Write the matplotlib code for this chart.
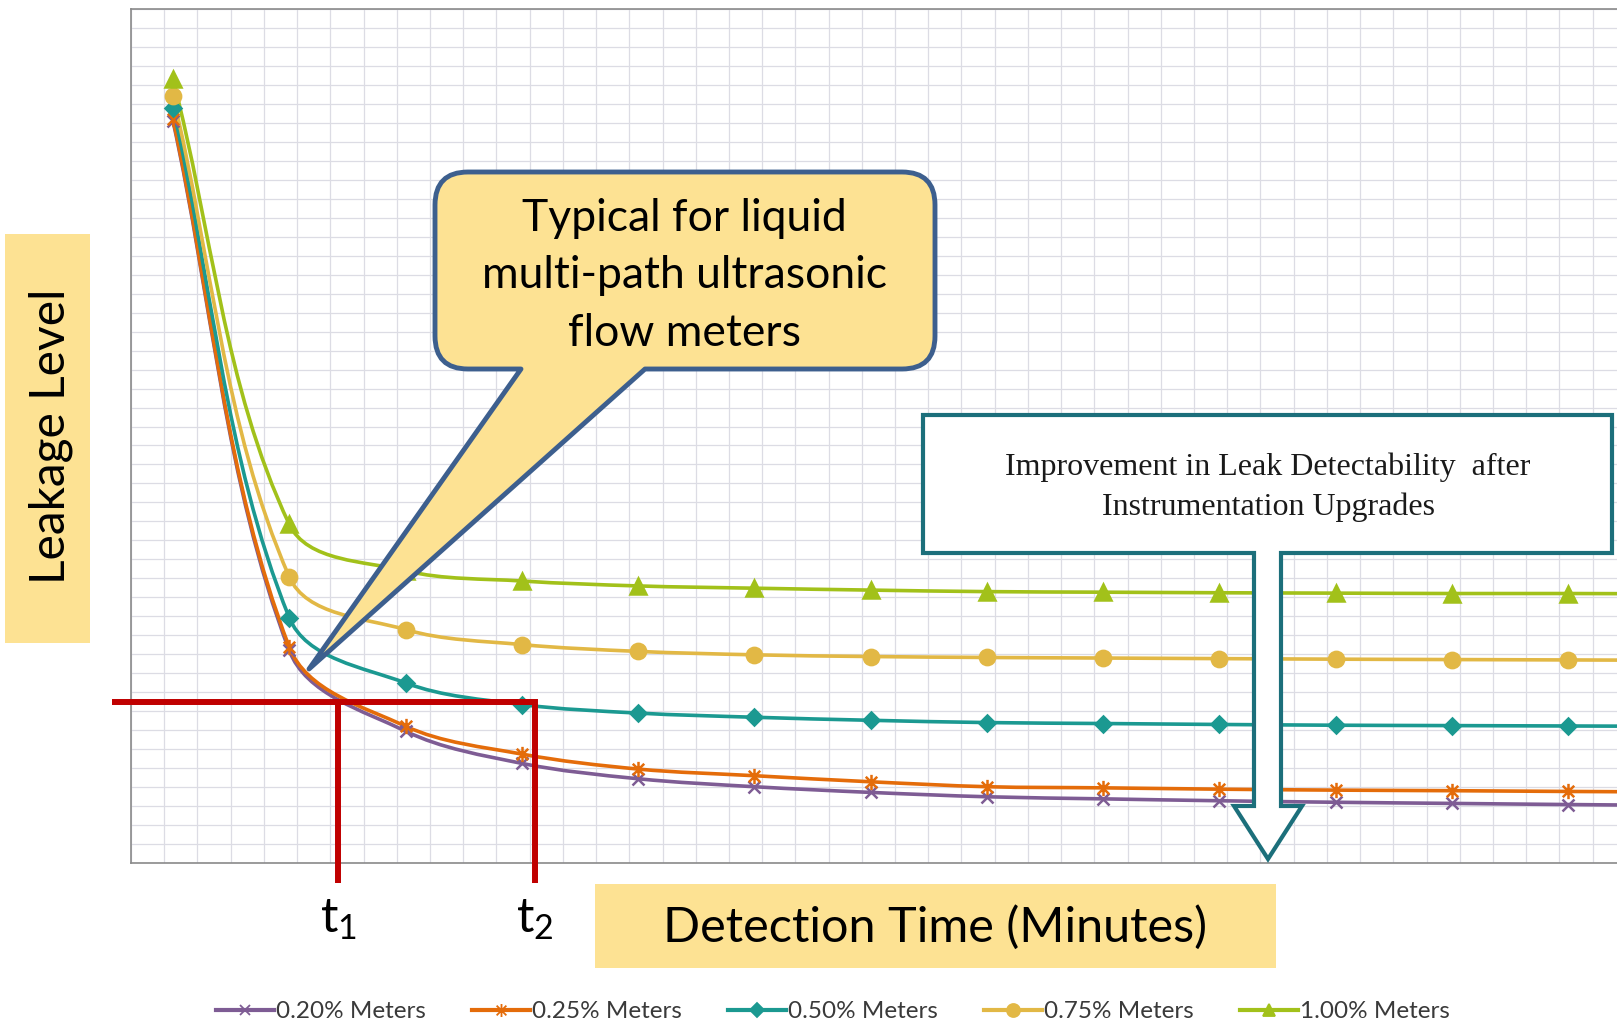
import numpy as np
import matplotlib
matplotlib.use('Agg')
import matplotlib.pyplot as plt
from matplotlib.path import Path
from matplotlib.patches import PathPatch, Rectangle

plt.rcParams['font.family'] = ['Lato', 'DejaVu Sans']

# Leakage level vs. detection time for each meter accuracy class
detection_time = [1, 2, 3, 4, 5, 6, 7, 8, 9, 10, 11, 12, 13, 14]
meters_020 = [39.1, 11.2, 6.95, 5.25, 4.44, 4.02, 3.72, 3.49, 3.38, 3.28, 3.20, 3.14, 3.08, 3.03]
meters_025 = [39.2, 11.38, 7.21, 5.74, 4.95, 4.60, 4.28, 4.02, 3.96, 3.89, 3.84, 3.81, 3.77, 3.74]
meters_050 = [39.8, 12.93, 9.49, 8.35, 7.90, 7.68, 7.52, 7.40, 7.35, 7.30, 7.26, 7.24, 7.22, 7.20]
meters_075 = [40.4, 15.08, 12.3, 11.51, 11.15, 10.97, 10.88, 10.83, 10.80, 10.77, 10.74, 10.72, 10.70, 10.68]
meters_100 = [41.3, 17.85, 15.4, 14.86, 14.60, 14.48, 14.38, 14.30, 14.27, 14.24, 14.22, 14.20, 14.20, 14.18]

series = [meters_020, meters_025, meters_050, meters_075, meters_100]
series_labels = ['0.20% Meters', '0.25% Meters', '0.50% Meters', '0.75% Meters', '1.00% Meters']
series_colors = ['#7E5C94', '#E46C0A', '#1B9991', '#E2B845', '#A2C11A']

# Detection threshold and the two detection times it gives
threshold_level = 8.46
t1_time = 2.42
t2_time = 4.11

# asterisk marker (cross plus vertical stroke)
star = Path([(0, -1), (0, 1), (-0.75, -0.75), (0.75, 0.75), (-0.75, 0.75), (0.75, -0.75)],
            [Path.MOVETO, Path.LINETO] * 3)
series_markers = ['x', star, 'D', 'o', '^']
marker_sizes = [9, 11, 8.5, 11, 11]

W, H = 1617, 1024
XMIN, XMAX, YMIN, YMAX = 0.639, 13.42, 0, 45
AX_L, AX_T, AX_B = 131, 9, 863
SX = (W - AX_L) / (XMAX - XMIN)      # pixels per minute
SY = (AX_B - AX_T) / (YMAX - YMIN)   # pixels per level unit


def smooth_path(x, y):
    # smoothed line: tangent along neighbours, handle length a third of the
    # segment length (computed in screen space so sharp knees don't overshoot)
    pts = np.column_stack([np.asarray(x, float) * SX, np.asarray(y, float) * SY])
    n = len(pts)
    tang = []
    for i in range(n):
        d = pts[min(i + 1, n - 1)] - pts[max(i - 1, 0)]
        tang.append(d / np.hypot(*d))
    verts = [pts[0]]
    codes = [Path.MOVETO]
    for i in range(n - 1):
        seg = np.hypot(*(pts[i + 1] - pts[i])) / 3
        verts += [pts[i] + tang[i] * seg, pts[i + 1] - tang[i + 1] * seg, pts[i + 1]]
        codes += [Path.CURVE4] * 3
    verts = np.array(verts) / [SX, SY]
    return Path(verts, codes)


fig = plt.figure(figsize=(W / 100, H / 100), dpi=100)
ax = fig.add_axes([AX_L / W, (H - AX_B) / H, (W - AX_L) / W, (AX_B - AX_T) / H])
ax.set_xlim(XMIN, XMAX)
ax.set_ylim(YMIN, YMAX)
ax.set_xticks(np.arange(XMIN, XMAX, 2 / 7))
ax.set_yticks(np.arange(0, 46, 1))
ax.tick_params(length=0, labelbottom=False, labelleft=False)
ax.grid(True, color='#DCDCE4', linewidth=0.9)
ax.set_axisbelow(True)
for side in ['left', 'top', 'bottom']:
    ax.spines[side].set_color('#8A8A8A')
    ax.spines[side].set_linewidth(1.2)
ax.spines['right'].set_visible(False)

for vals, col, mk, ms in zip(series, series_colors, series_markers, marker_sizes):
    ax.add_patch(PathPatch(smooth_path(detection_time, vals), fill=False,
                           edgecolor=col, linewidth=2.6, zorder=3))
    ax.plot(detection_time, vals, linestyle='none', marker=mk, markersize=ms,
            color=col, markeredgecolor=col, markeredgewidth=1.8, zorder=4)

# threshold line and the two detection times
red = '#C00000'
ax.plot([0.472, t2_time, t2_time], [threshold_level, threshold_level, -1.05], color=red,
        linewidth=4.3, solid_joinstyle='miter', solid_capstyle='butt', clip_on=False, zorder=6)
ax.plot([t1_time, t1_time], [threshold_level, -1.05], color=red, linewidth=4.3,
        solid_capstyle='butt', clip_on=False, zorder=6)
ax.text(t1_time, -3.68, r'$\mathregular{t_1}$', ha='center', va='baseline', fontsize=35, clip_on=False)
ax.text(t2_time, -3.68, r'$\mathregular{t_2}$', ha='center', va='baseline', fontsize=35, clip_on=False)

# overlay in pixel coordinates for the annotation shapes
ov = fig.add_axes([0, 0, 1, 1], zorder=5)
ov.set_xlim(0, W)
ov.set_ylim(H, 0)
ov.axis('off')

box_fill = '#FDE293'

# axis titles on yellow boxes
ov.add_patch(Rectangle((595, 884), 681, 84, facecolor=box_fill, edgecolor='none'))
ov.text(935.5, 927, 'Detection Time (Minutes)', ha='center', va='center', fontsize=35)
ov.add_patch(Rectangle((5, 234), 85, 409, facecolor=box_fill, edgecolor='none'))
ov.text(51, 436, 'Leakage Level', ha='center', va='center', rotation=90, fontsize=34.5)

# speech callout pointing at the curves
x0, y0, x1, y1, r = 435, 172, 935, 369, 33
tip = (309, 669)
verts = [(x0 + r, y0), (x1 - r, y0), (x1, y0), (x1, y0 + r), (x1, y1 - r), (x1, y1), (x1 - r, y1),
         (645, y1), tip, (521, y1), (x0 + r, y1), (x0, y1), (x0, y1 - r), (x0, y0 + r), (x0, y0),
         (x0 + r, y0), (x0 + r, y0)]
codes = [Path.MOVETO, Path.LINETO, Path.CURVE3, Path.CURVE3, Path.LINETO, Path.CURVE3, Path.CURVE3,
         Path.LINETO, Path.LINETO, Path.LINETO, Path.LINETO, Path.CURVE3, Path.CURVE3, Path.LINETO,
         Path.CURVE3, Path.CURVE3, Path.CLOSEPOLY]
ov.add_patch(PathPatch(Path(verts, codes), facecolor=box_fill, edgecolor='#3D5F8E',
                       linewidth=3.5, joinstyle='round'))
for i, line in enumerate(['Typical for liquid', 'multi-path ultrasonic', 'flow meters']):
    ov.text(684, 231 + i * 57.5, line, ha='center', va='baseline', fontsize=32)

# down-arrow callout
teal = '#1C6F7B'
arrow = [(923, 415), (1612, 415), (1612, 553), (1281, 553), (1281, 806), (1302, 806), (1268, 859),
         (1234, 806), (1254, 806), (1254, 553), (923, 553), (923, 415)]
ov.add_patch(PathPatch(Path(arrow, closed=True), facecolor='white', edgecolor=teal,
                       linewidth=3.0, joinstyle='miter'))
ov.text(1268, 475, 'Improvement in Leak Detectability  after', ha='center', va='baseline',
        fontsize=23, family='Liberation Serif', color='#1A1A1A')
ov.text(1268, 515, 'Instrumentation Upgrades', ha='center', va='baseline',
        fontsize=23, family='Liberation Serif', color='#1A1A1A')

# legend row
for k, (lab, col, mk, ms) in enumerate(zip(series_labels, series_colors, series_markers, marker_sizes)):
    lx = 216 + 256 * k
    ov.plot([lx, lx + 58], [1010, 1010], color=col, linewidth=3)
    ov.plot([lx + 29], [1010], marker=mk, markersize=ms * 0.85, color=col,
            markeredgecolor=col, markeredgewidth=1.3, linestyle='none')
    ov.text(lx + 60, 1011, lab, ha='left', va='center', fontsize=17.5, color='#3A3A3A')

fig.savefig('out.png', dpi=100)
